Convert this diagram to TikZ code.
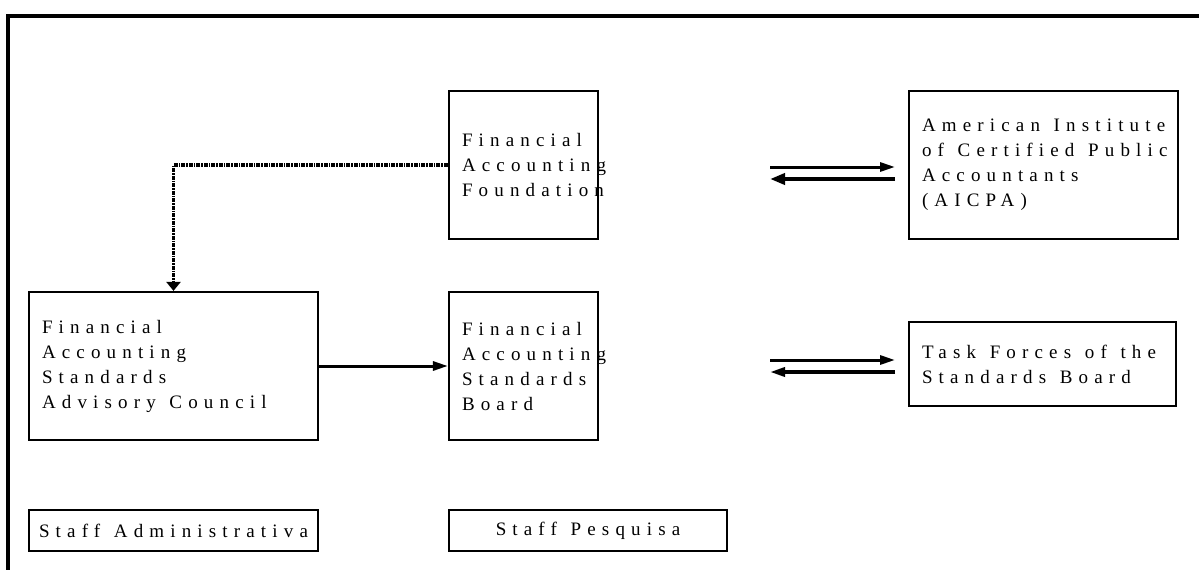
\documentclass[tikz,border=0pt]{standalone}
\usepackage{fontspec}
\setmainfont{Liberation Serif}[LetterSpace=32.4]
\usetikzlibrary{arrows.meta}
\newcommand\wsp{\hspace{0.72em}}
\begin{document}
\begin{tikzpicture}[x=1pt,y=-1pt,
  box/.style={draw,line width=2.2pt,inner xsep=13pt,inner ysep=0pt,align=left,
    font=\fontsize{19}{25}\selectfont},
  sbox/.style={draw,line width=2.2pt,inner sep=0pt,align=center,
    font=\fontsize{19}{25}\selectfont},
  arr/.style={line width=3pt,-{Triangle[length=15pt,width=9pt]}},
  arrthick/.style={line width=4.8pt,-{Triangle[length=15pt,width=11pt]}},
  dotarr/.style={line width=3.2pt,dash pattern=on 4pt off 1pt on 1.5pt off 1pt,
    -{Triangle[length=9pt,width=14pt]}}]
\useasboundingbox (0,0) rectangle (1199,570);
\draw[line width=3.8pt] (8,570) -- (8,16) -- (1199,16);

\node[box,text width=123pt,minimum height=148pt] (faf) at (523.5,165)
  {Financial\\Accounting\\Foundation};
\node[box,text width=243pt,minimum height=148pt] (aicpa) at (1043.5,165)
  {American\wsp Institute\\of\wsp Certified\wsp Public\\Accountants\\(AICPA)};
\node[box,text width=263pt,minimum height=148pt] (fasac) at (173.5,366)
  {Financial\\Accounting\\Standards\\Advisory\wsp Council};
\node[box,text width=123pt,minimum height=148pt] (fasb) at (523.5,366)
  {Financial\\Accounting\\Standards\\Board};
\node[box,text width=241pt,minimum height=84pt] (task) at (1042.5,364)
  {Task\wsp Forces\wsp of\wsp the\\Standards\wsp Board};
\node[sbox,minimum width=289pt,minimum height=41pt] (sadm) at (173.5,530.5)
  {Staff\wsp Administrativa};
\node[sbox,minimum width=278pt,minimum height=41pt] (spes) at (588,530.5)
  {Staff\wsp Pesquisa};

\coordinate (a1s) at (770,167);
\coordinate (a1e) at (895,167);
\coordinate (a2s) at (895,179);
\coordinate (a2e) at (770,179);
\coordinate (t1s) at (770,360);
\coordinate (t1e) at (895,360);
\coordinate (t2s) at (895,372);
\coordinate (t2e) at (770,372);

\draw[arr] (a1s) -- (a1e);
\draw[arrthick] (a2s) -- (a2e);
\draw[arr] (t1s) -- (t1e);
\draw[arr,line width=3.4pt] (t2s) -- (t2e);
\draw[arr] (fasac.east) -- (fasb.west);
\draw[dotarr] (faf.west) -| (fasac.north);
\end{tikzpicture}
\end{document}
